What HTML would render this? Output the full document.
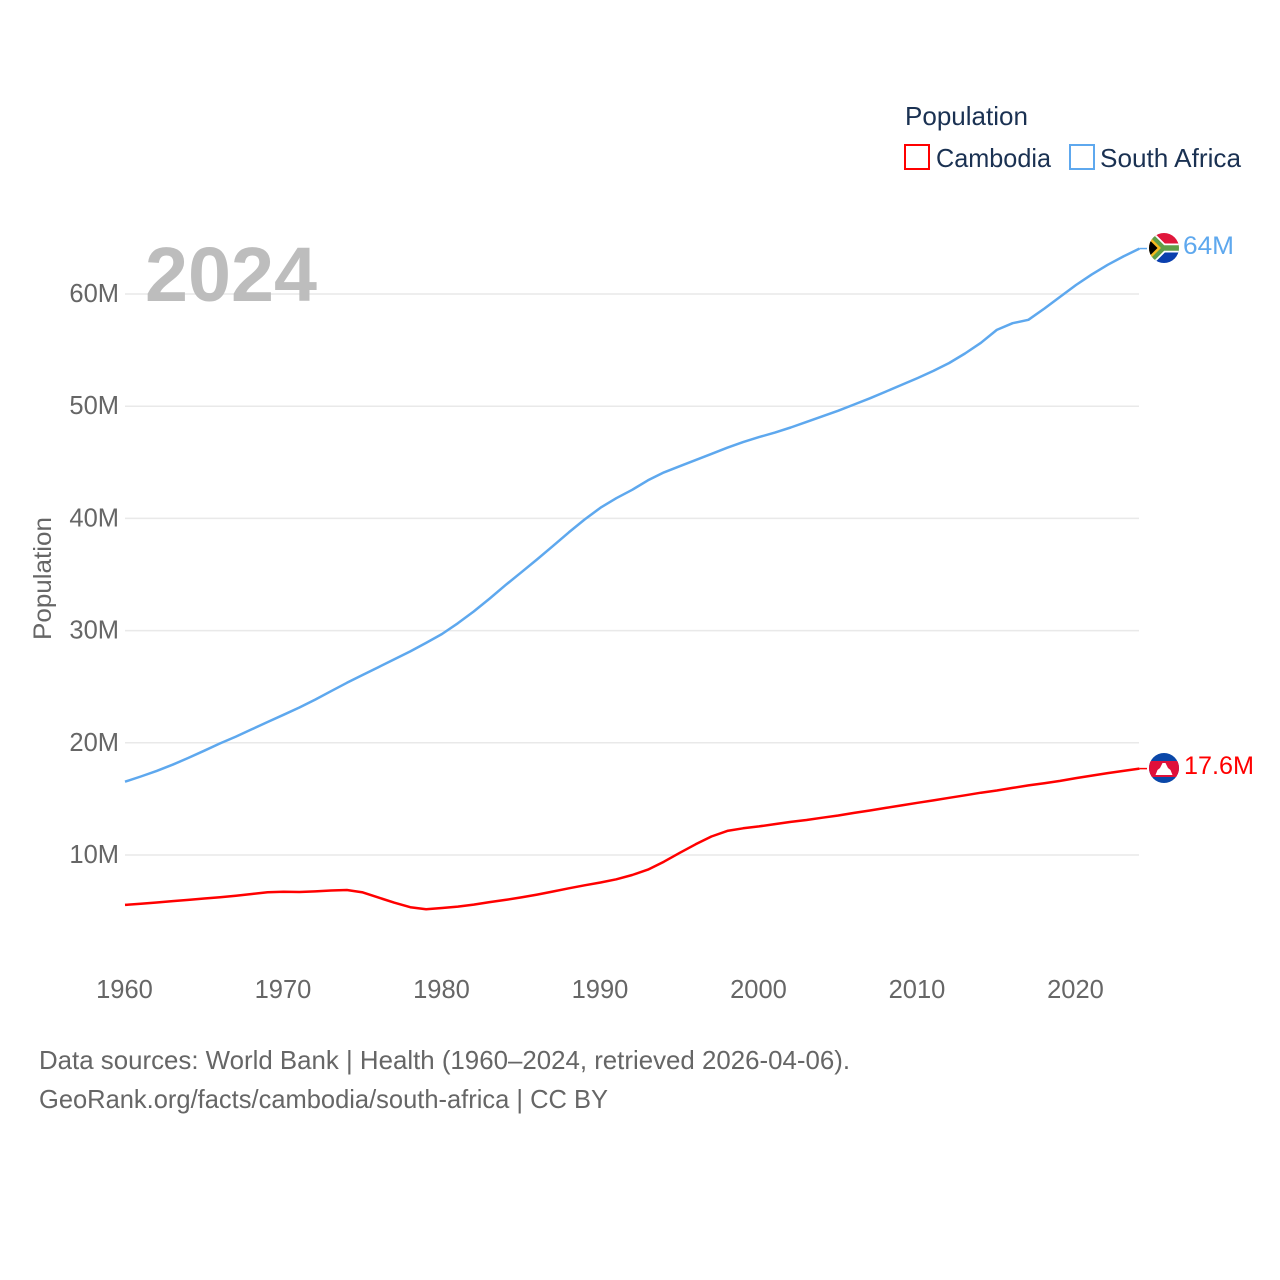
<!DOCTYPE html>
<html lang="en">
<head>
<meta charset="utf-8">
<title>Population: Cambodia and South Africa</title>
<style>
html,body{margin:0;padding:0;background:#fff;}
svg{display:block;font-family:"Liberation Sans",sans-serif;}
</style>
</head>
<body>
<svg id="chart" xmlns="http://www.w3.org/2000/svg" width="1280" height="1280" viewBox="0 0 1280 1280">
<defs>
<clipPath id="flag-clip-za"><circle cx="1164" cy="248" r="15"/></clipPath>
<clipPath id="flag-clip-kh"><circle cx="1164" cy="768" r="15"/></clipPath>
</defs>
<rect width="1280" height="1280" fill="#fff"/>
<g id="grid"></g>
<g id="yticks"></g>
<g id="xticks"></g>
<text x="145" y="301" font-size="77" font-weight="700" fill="#bdbdbd" textLength="172" lengthAdjust="spacingAndGlyphs">2024</text>
<text transform="translate(51,640) rotate(-90)" font-size="25" fill="#666" textLength="123" lengthAdjust="spacingAndGlyphs">Population</text>
<g id="series"></g>
<g clip-path="url(#flag-clip-za)">
<rect x="1149" y="233" width="30" height="15" fill="#e0173c"/>
<rect x="1149" y="248" width="30" height="15" fill="#0a3fae"/>
<path d="M1146 231L1163 248L1146 265M1163 248H1180" fill="none" stroke="#fff" stroke-width="9"/>
<path d="M1146 231L1163 248L1146 265M1163 248H1180" fill="none" stroke="#5f9e48" stroke-width="5.500"/>
<path d="M1149 236L1161 248L1149 260Z" fill="#f5b91f"/>
<path d="M1149 239.500L1157.500 248L1149 256.500Z" fill="#000"/>
</g>
<g clip-path="url(#flag-clip-kh)">
<rect x="1149" y="753" width="30" height="30" fill="#0a47a8"/>
<rect x="1149" y="761" width="30" height="16" fill="#e0103a"/>
<path d="M1155.500 775L1157.500 770L1160 768L1162.500 763H1165.500L1168 768L1170.500 770L1172.500 775Z" fill="#fff"/>
</g>
<text x="1183" y="254" font-size="25" fill="#5ea8ee" textLength="51" lengthAdjust="spacingAndGlyphs">64M</text>
<text x="1184" y="774" font-size="25" fill="#ff0000" textLength="70" lengthAdjust="spacingAndGlyphs">17.6M</text>
<g>
<text x="905" y="125" font-size="26" fill="#1a3152" textLength="123" lengthAdjust="spacingAndGlyphs">Population</text>
<rect x="905" y="145" width="24" height="24" fill="none" stroke="#ff0000" stroke-width="2"/>
<text x="936" y="167" font-size="26" fill="#1a3152" textLength="115" lengthAdjust="spacingAndGlyphs">Cambodia</text>
<rect x="1070" y="145" width="24" height="24" fill="none" stroke="#5ea8ee" stroke-width="2"/>
<text x="1100" y="167" font-size="26" fill="#1a3152" textLength="141" lengthAdjust="spacingAndGlyphs">South Africa</text>
</g>
<g>
<text x="39" y="1069" font-size="26" fill="#666" textLength="811" lengthAdjust="spacingAndGlyphs">Data sources: World Bank | Health (1960–2024, retrieved 2026-04-06).</text>
<text x="39" y="1108" font-size="26" fill="#666" textLength="569" lengthAdjust="spacingAndGlyphs">GeoRank.org/facts/cambodia/south-africa | CC BY</text>
</g>
</svg>
<script>
const years = [1960,1961,1962,1963,1964,1965,1966,1967,1968,1969,1970,1971,1972,1973,1974,1975,1976,1977,1978,1979,1980,1981,1982,1983,1984,1985,1986,1987,1988,1989,1990,1991,1992,1993,1994,1995,1996,1997,1998,1999,2000,2001,2002,2003,2004,2005,2006,2007,2008,2009,2010,2011,2012,2013,2014,2015,2016,2017,2018,2019,2020,2021,2022,2023,2024];
const southAfrica = [16.53,17.0,17.5,18.05,18.65,19.3,19.95,20.55,21.2,21.85,22.5,23.15,23.85,24.6,25.35,26.05,26.75,27.45,28.15,28.9,29.7,30.65,31.7,32.85,34.05,35.2,36.35,37.55,38.75,39.9,40.95,41.8,42.55,43.4,44.1,44.65,45.2,45.75,46.3,46.8,47.25,47.65,48.1,48.6,49.1,49.6,50.15,50.7,51.3,51.9,52.5,53.15,53.85,54.7,55.65,56.8,57.4,57.7,58.7,59.75,60.8,61.75,62.6,63.35,64.05];
const cambodia = [5.55,5.65,5.77,5.89,6.0,6.12,6.24,6.37,6.52,6.68,6.72,6.7,6.76,6.84,6.88,6.67,6.2,5.75,5.35,5.17,5.28,5.4,5.58,5.8,6.0,6.22,6.47,6.75,7.03,7.3,7.55,7.83,8.22,8.7,9.4,10.2,10.95,11.65,12.15,12.38,12.55,12.75,12.95,13.12,13.32,13.52,13.75,13.97,14.2,14.42,14.65,14.87,15.1,15.32,15.55,15.75,15.98,16.2,16.4,16.6,16.85,17.08,17.3,17.5,17.7];
const yTickValues = [10,20,30,40,50,60];
const yTickLabels = ["10M","20M","30M","40M","50M","60M"];
const xTickValues = [1960,1970,1980,1990,2000,2010,2020];
const xTickLabels = ["1960","1970","1980","1990","2000","2010","2020"];

const NS = "http://www.w3.org/2000/svg";
function xScale(year){ return 125 + (year - 1960) * 15.85; }
function yScale(value){ return 967.2 - value * 11.22; }

const grid = document.getElementById("grid");
const yticks = document.getElementById("yticks");
const xticks = document.getElementById("xticks");
const series = document.getElementById("series");

yTickValues.forEach(function(v, i){
  const line = document.createElementNS(NS, "line");
  line.setAttribute("x1", 125);
  line.setAttribute("x2", 1139);
  line.setAttribute("y1", yScale(v));
  line.setAttribute("y2", yScale(v));
  line.setAttribute("stroke", "#e9e9e9");
  line.setAttribute("stroke-width", "1.500");
  
  
  grid.appendChild(line);
  const t = document.createElementNS(NS, "text");
  t.textContent = yTickLabels[i];
  t.setAttribute("x", 119);
  t.setAttribute("y", yScale(v) + 8);
  t.setAttribute("text-anchor", "end");
  t.setAttribute("font-size", "25.500");
  t.setAttribute("fill", "#666");
  
  
  yticks.appendChild(t);
});

xTickValues.forEach(function(v, i){
  const t = document.createElementNS(NS, "text");
  t.textContent = xTickLabels[i];
  t.setAttribute("x", xScale(v) - 0.5);
  t.setAttribute("y", 998);
  t.setAttribute("text-anchor", "middle");
  t.setAttribute("font-size", "25.500");
  t.setAttribute("fill", "#666");
  
  
  xticks.appendChild(t);
});

function points(values){
  return values.map(function(v, i){ return xScale(years[i]).toFixed(1) + "," + yScale(v).toFixed(1); }).join(" ");
}

const lineCambodia = document.createElementNS(NS, "polyline");
lineCambodia.setAttribute("points", points(cambodia));
lineCambodia.setAttribute("fill", "none");
lineCambodia.setAttribute("stroke", "#ff0000");
lineCambodia.setAttribute("stroke-width", "2.500");
lineCambodia.setAttribute("stroke-linejoin", "round");


series.appendChild(lineCambodia);

const lineSouthAfrica = document.createElementNS(NS, "polyline");
lineSouthAfrica.setAttribute("points", points(southAfrica));
lineSouthAfrica.setAttribute("fill", "none");
lineSouthAfrica.setAttribute("stroke", "#5ea8ee");
lineSouthAfrica.setAttribute("stroke-width", "2.500");
lineSouthAfrica.setAttribute("stroke-linejoin", "round");


series.appendChild(lineSouthAfrica);

const connectorCambodia = document.createElementNS(NS, "line");
connectorCambodia.setAttribute("x1", xScale(2024));
connectorCambodia.setAttribute("x2", 1147);
connectorCambodia.setAttribute("y1", yScale(cambodia[cambodia.length - 1]));
connectorCambodia.setAttribute("y2", yScale(cambodia[cambodia.length - 1]));
connectorCambodia.setAttribute("stroke", "#ff0000");
connectorCambodia.setAttribute("stroke-width", "1.500");


series.appendChild(connectorCambodia);

const connectorSouthAfrica = document.createElementNS(NS, "line");
connectorSouthAfrica.setAttribute("x1", xScale(2024));
connectorSouthAfrica.setAttribute("x2", 1147);
connectorSouthAfrica.setAttribute("y1", yScale(southAfrica[southAfrica.length - 1]));
connectorSouthAfrica.setAttribute("y2", yScale(southAfrica[southAfrica.length - 1]));
connectorSouthAfrica.setAttribute("stroke", "#5ea8ee");
connectorSouthAfrica.setAttribute("stroke-width", "1.500");


series.appendChild(connectorSouthAfrica);
</script>
</body>
</html>
